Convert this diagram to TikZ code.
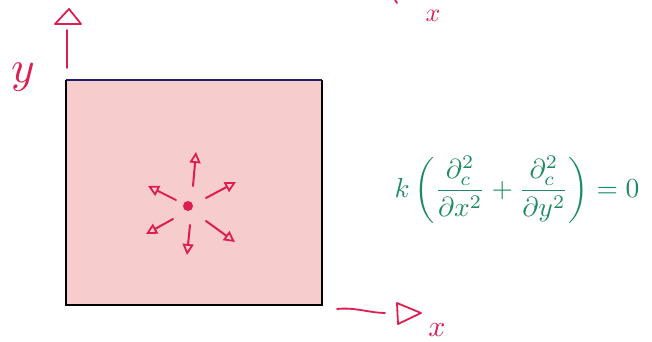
\documentclass[tikz,border=0pt]{standalone}
\usepackage{amsmath}
\usepackage{graphicx}
\usetikzlibrary{arrows.meta}
\begin{document}
\begin{tikzpicture}[x=1pt,y=-1pt,
  pen/.style={draw=penred, line width=1.8pt, line cap=round, line join=round},
  flux/.style={penred, line width=2pt, line cap=round, -{Triangle[open,length=11pt,width=11pt,line width=1.8pt]}},
  lbl/.style={text=penred, inner sep=0pt}]
\definecolor{penred}{RGB}{220,30,80}
\definecolor{fillpink}{RGB}{246,204,204}
\definecolor{navy}{RGB}{30,30,110}
\definecolor{eqgreen}{RGB}{30,140,95}
\useasboundingbox (0,0) rectangle (652,342);
\fill[white] (0,0) rectangle (652,342);
% domain
\coordinate (tl) at (66,80);
\coordinate (tr) at (322,80);
\coordinate (br) at (322,305);
\coordinate (bl) at (66,305);
\fill[fillpink] (tl) rectangle (br);
\draw[navy, line width=1.8pt] (tl) -- (tr);
\draw[black, line width=1.8pt] (tr) -- (br) -- (bl) -- (tl);
% y axis
\coordinate (ys) at (67,68);
\coordinate (ye) at (67,30);
\draw[pen] (ys) -- (ye);
\draw[pen] (55,24) -- (69,9) -- (81,24) -- cycle;
\node[lbl] (ylab) at (23,77) {\scalebox{4.5}{$y$}};
% x axis
\coordinate (xs) at (337,309);
\coordinate (xe) at (385,313);
\draw[pen] (xs) .. controls (355,307) and (370,313) .. (xe);
\draw[pen] (397,303) -- (421,313) -- (398,324) -- cycle;
\node[lbl] (xlab) at (437,330) {\scalebox{3}{$x$}};
% fragments at top
\node[lbl] (xtop) at (433,16) {\scalebox{2.6}{$x$}};
\draw[pen] (395,0) -- (397,3);
% source and flux arrows
\node[circle, fill=penred, inner sep=0pt, minimum size=10pt] (src) at (188,206) {};
\coordinate (a1) at (196,152);
\coordinate (a2) at (236,182);
\coordinate (a3) at (148,186);
\coordinate (a4) at (146,234);
\coordinate (a5) at (187,255);
\coordinate (a6) at (235,242);
\draw[flux] (193,186) -- (a1);
\draw[flux] (206,198) -- (a2);
\draw[flux] (176,200) -- (a3);
\draw[flux] (173,219) -- (a4);
\draw[flux] (190,225) -- (a5);
\draw[flux] (206,221) -- (a6);
% equation
\node[text=eqgreen, inner sep=0pt] (eq) at (517,190)
  {\scalebox{2.75}{$\displaystyle k\left(\frac{\partial^2_c}{\partial x^2}+\frac{\partial^2_c}{\partial y^2}\right)=0$}};
\end{tikzpicture}
\end{document}
